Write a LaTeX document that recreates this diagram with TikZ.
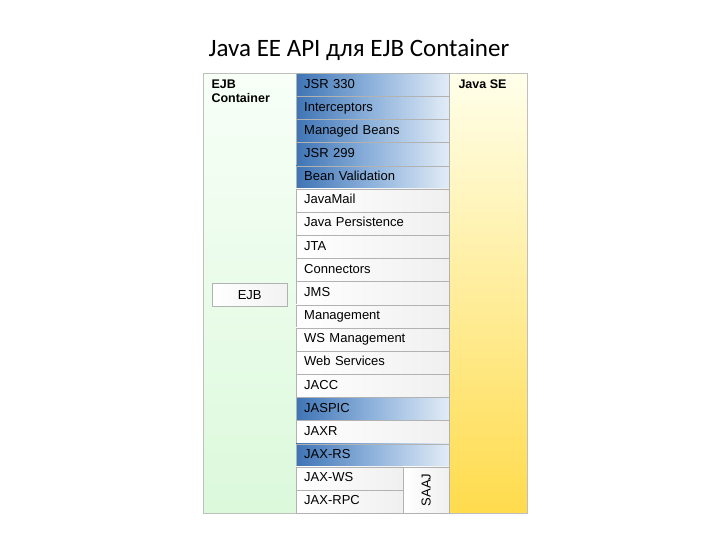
\documentclass[tikz,border=0pt]{standalone}
\usepackage{fontspec}
\setmainfont{Liberation Sans}
\newfontfamily\titlefont{Carlito}
\definecolor{bdark}{HTML}{3F74B5}
\definecolor{bmid}{HTML}{8FB3DC}
\definecolor{blight}{HTML}{E2ECF7}
\begin{document}
\begin{tikzpicture}[x=1pt,y=-1pt,
  row/.style={draw=gray!60,minimum width=153pt,minimum height=23.16pt,anchor=north west,inner ysep=0pt,inner xsep=0pt,text width=137pt,align=left,text height=9pt,text depth=2.5pt,font=\fontsize{13}{15}\selectfont},
  blue/.style={row,left color=bdark,right color=blight,middle color=bmid},
  plain/.style={row,left color=white,right color=gray!12},
  lbl/.style={font=\bfseries\fontsize{12.5}{14}\selectfont,align=left,anchor=north west}]
\useasboundingbox (0,0) rectangle (720,540);
\node[font=\titlefont\fontsize{25}{28}\selectfont] (title) at (359,50) {Java EE API для EJB Container};
\node[draw=gray!50,top color=green!3!white,bottom color=green!12!white!95!gray,minimum width=93pt,minimum height=440pt,anchor=north west,inner sep=0pt] (cont) at (203,73) {};
\node[lbl] (ct) at (208,76) {EJB\\Container};
\node[draw=gray!50,top color=yellow!8!white,bottom color=yellow!60!orange!70!white,minimum width=78pt,minimum height=440pt,anchor=north west,inner sep=0pt] (se) at (449,73) {};
\node[lbl] (st) at (455,76) {Java SE};
\node[draw=gray!60,left color=white,right color=gray!10,minimum width=75pt,minimum height=23pt,anchor=north west,inner sep=0pt,font=\fontsize{13}{15}\selectfont] (ejb) at (212,283) {EJB};
\foreach \t/\s [count=\i from 0] in {JSR 330/blue,Interceptors/blue,Managed Beans/blue,JSR 299/blue,Bean Validation/blue,JavaMail/plain,Java Persistence/plain,JTA/plain,Connectors/plain,JMS/plain,Management/plain,WS Management/plain,Web Services/plain,JACC/plain,JASPIC/blue,JAXR/plain,JAX-RS/blue}
  \node[\s] (r\i) at (296,73+23.16*\i) {\t};
\node[plain,minimum width=107pt,text width=91pt] (ws) at (296,73+23.16*17) {JAX-WS};
\node[plain,minimum width=107pt,text width=91pt] (rpc) at (296,73+23.16*18) {JAX-RPC};
\node[plain,minimum width=46pt,text width=30pt,minimum height=46.32pt,align=center] (saaj) at (403,73+23.16*17) {};
\node[rotate=90,font=\fontsize{13}{15}\selectfont] (saajt) at (saaj.center) {SAAJ};
\end{tikzpicture}
\end{document}
